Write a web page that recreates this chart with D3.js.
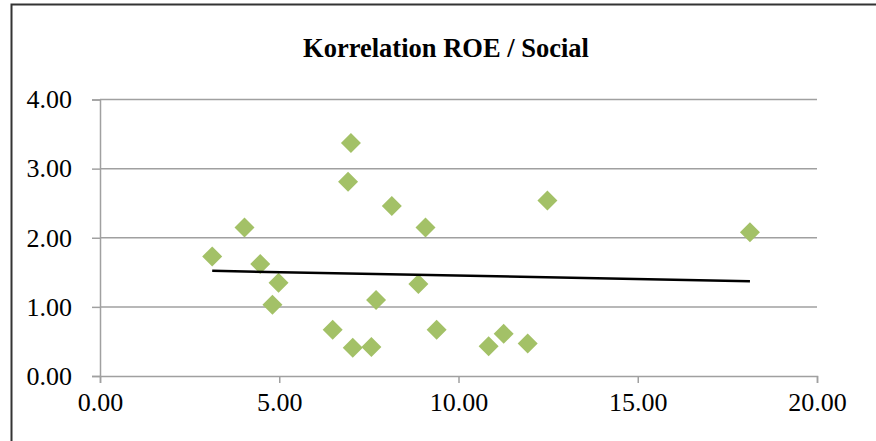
<!DOCTYPE html>
<html>
<head>
<meta charset="utf-8">
<script src="https://cdn.jsdelivr.net/npm/d3@7"></script>
<style>
  body { margin: 0; background: #fff; }
  svg { display: block; }
  text { font-family: "Liberation Serif", "Times New Roman", serif; fill: #000; }
</style>
</head>
<body>
<div id="chart"></div>
<script>
// values
const roe = [3.13, 4.03, 4.47, 4.98, 4.81, 6.49, 7.05, 7.00, 6.92, 7.70, 7.57, 8.14, 8.88, 9.08, 9.39, 10.84, 11.26, 11.93, 12.48, 18.13];
const social = [1.73, 2.15, 1.62, 1.35, 1.03, 0.67, 0.41, 3.37, 2.81, 1.10, 0.42, 2.46, 1.33, 2.15, 0.67, 0.43, 0.61, 0.47, 2.54, 2.08];
const xTicks = [0, 5, 10, 15, 20];
const yTicks = [0, 1, 2, 3, 4];
const title = 'Korrelation ROE / Social';

const width = 876;
const height = 441;
const plot = { left: 100, right: 817, top: 99.5, bottom: 376 };

const svg = d3.select('#chart').append('svg').attr('width', width).attr('height', height);

// chart frame (cut off at right and bottom, like the reference)
svg.append('rect')
  .attr('x', 11.5).attr('y', 4.5)
  .attr('width', 1000).attr('height', 1000)
  .attr('fill', '#fff').attr('stroke', '#333').attr('stroke-width', 2);

const x = d3.scaleLinear().domain([0, 20]).range([plot.left, plot.right]);
const y = d3.scaleLinear().domain([0, 4]).range([plot.bottom, plot.top]);

svg.append('text')
  .attr('x', 446).attr('y', 57)
  .attr('text-anchor', 'middle')
  .attr('font-size', 26.5).attr('font-weight', 'bold')
  .text(title);

// gridlines
svg.append('g')
  .selectAll('line')
  .data(yTicks.filter(d => d > 0))
  .join('line')
  .attr('x1', plot.left).attr('x2', plot.right)
  .attr('y1', d => y(d)).attr('y2', d => y(d))
  .attr('stroke', '#a0a0a0').attr('stroke-width', 1.5);

const axisStyle = g => {
  g.select('.domain').attr('stroke', '#a0a0a0').attr('stroke-width', 1.5);
  g.selectAll('.tick line').attr('stroke', '#a0a0a0').attr('stroke-width', 1.5);
  g.selectAll('.tick text').attr('font-size', 26).attr('font-family', '"Liberation Serif", serif').attr('fill', '#000');
};

svg.append('g')
  .attr('transform', `translate(0,${plot.bottom})`)
  .call(d3.axisBottom(x).tickValues(xTicks).tickFormat(d3.format('.2f')).tickSizeOuter(0).tickSize(7).tickPadding(10))
  .call(axisStyle);

svg.append('g')
  .attr('transform', `translate(${plot.left},0)`)
  .call(d3.axisLeft(y).tickValues(yTicks).tickFormat(d3.format('.2f')).tickSizeOuter(0).tickSize(8).tickPadding(20))
  .call(axisStyle);

// points
const points = roe.map((v, i) => ({ x: v, y: social[i] }));
const diamond = d3.symbol().type(d3.symbolSquare).size(200);
svg.append('g')
  .selectAll('path')
  .data(points)
  .join('path')
  .attr('d', diamond)
  .attr('transform', d => `translate(${x(d.x)},${y(d.y)}) rotate(45)`)
  .attr('fill', '#a3c167');

// linear trendline (least squares)
const mx = d3.mean(roe);
const my = d3.mean(social);
const slope = d3.sum(points, d => (d.x - mx) * (d.y - my)) / d3.sum(points, d => (d.x - mx) ** 2);
const icpt = my - slope * mx;
const xExt = d3.extent(roe);
svg.append('line')
  .attr('x1', x(xExt[0])).attr('x2', x(xExt[1]))
  .attr('y1', y(icpt + slope * xExt[0])).attr('y2', y(icpt + slope * xExt[1]))
  .attr('stroke', '#000').attr('stroke-width', 2.5);
</script>
</body>
</html>
